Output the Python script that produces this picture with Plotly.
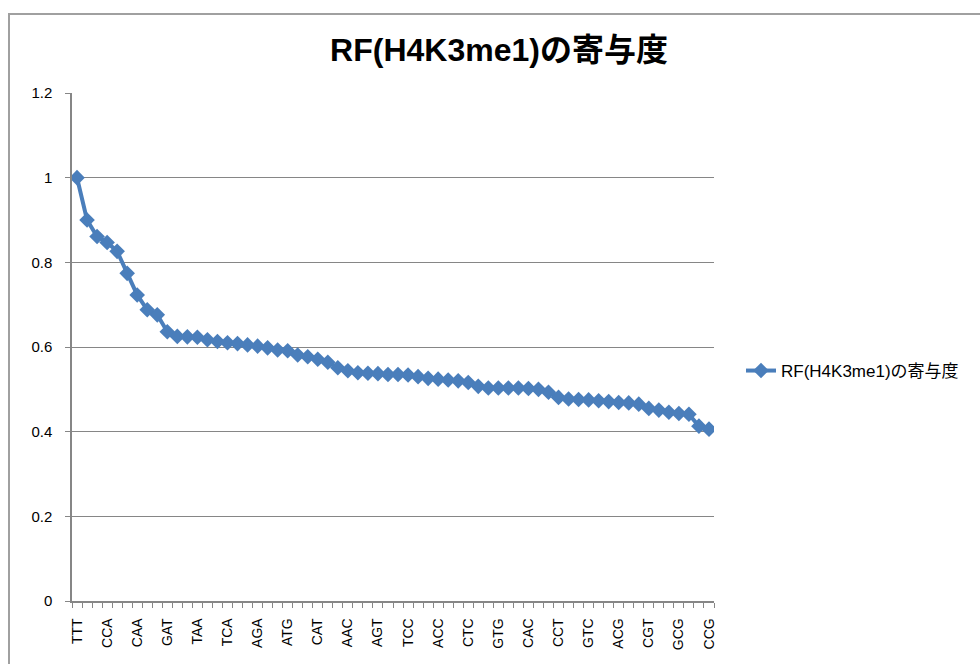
import plotly.graph_objects as go

# Importance scores of the 64 codons (sorted, descending)
importance = [
    1.000, 0.900, 0.861, 0.847, 0.826, 0.774, 0.723, 0.688, 0.676, 0.636,
    0.625, 0.624, 0.623, 0.617, 0.613, 0.610, 0.608, 0.605, 0.602, 0.598,
    0.593, 0.591, 0.581, 0.577, 0.571, 0.564, 0.551, 0.544, 0.539, 0.538,
    0.537, 0.535, 0.535, 0.534, 0.530, 0.526, 0.524, 0.522, 0.520, 0.516,
    0.507, 0.503, 0.503, 0.503, 0.503, 0.502, 0.500, 0.493, 0.481, 0.477,
    0.476, 0.475, 0.473, 0.471, 0.469, 0.468, 0.465, 0.455, 0.451, 0.446,
    0.443, 0.441, 0.413, 0.406,
]

# Codon labels shown on the category axis (every third position)
tick_labels = [
    "TTT", "CCA", "CAA", "GAT", "TAA", "TCA", "AGA", "ATG", "CAT", "AAC", "AGT",
    "TCC", "ACC", "CTC", "GTG", "CAC", "CCT", "GTC", "ACG", "CGT", "GCG", "CCG",
]
tick_step = 3

# Value-axis labels
y_ticks = [0, 0.2, 0.4, 0.6, 0.8, 1.0, 1.2]
y_tick_text = ["0", "0.2", "0.4", "0.6", "0.8", "1", "1.2"]

series_name = "RF(H4K3me1)の寄与度"
title_text = "RF(H4K3me1)の寄与度"

positions = list(range(len(importance)))
tick_positions = positions[::tick_step]

line_color = "rgb(74,126,187)"
grid_color = "rgb(134,134,134)"
axis_color = "rgb(134,134,134)"
text_font = "Liberation Sans, Arial, Noto Sans CJK JP, sans-serif"

fig = go.Figure()
fig.add_trace(go.Scatter(
    x=positions,
    y=importance,
    mode="lines+markers",
    name=series_name,
    line=dict(color=line_color, width=4),
    marker=dict(symbol="diamond", size=12, color=line_color),
))

W, H = 980, 664
left, right, top, bottom = 72, 714, 93, 601

fig.update_layout(
    width=W,
    height=H,
    margin=dict(l=left, r=W - right, t=top, b=H - bottom, pad=0),
    paper_bgcolor="white",
    plot_bgcolor="white",
    font=dict(family=text_font, size=15, color="black"),
    title=dict(
        text="<b>" + title_text + "</b>",
        x=499 / W,
        xanchor="center",
        y=1 - 50 / H,
        yanchor="middle",
        font=dict(family="Liberation Sans Narrow, Liberation Sans, Noto Sans CJK JP, sans-serif",
                  size=32, color="black"),
    ),
    showlegend=True,
    legend=dict(
        x=(741 - left) / (right - left),
        xanchor="left",
        y=(bottom - 371) / (bottom - top),
        yanchor="middle",
        font=dict(family=text_font, size=17, color="black"),
        bgcolor="rgba(0,0,0,0)",
        itemwidth=30,
    ),
)

fig.update_xaxes(
    range=[-0.5, len(importance) - 0.5],
    tickmode="array",
    tickvals=tick_positions,
    ticktext=tick_labels,
    tickangle=-90,
    ticks="",
    showgrid=False,
    showline=True,
    linecolor=axis_color,
    linewidth=1.5,
    zeroline=False,
    ticklabelstandoff=10,
    tickfont_size=14,
    tickfont_family=text_font,
    tickfont_color="black",
    minor=dict(
        tickmode="linear",
        tick0=-0.5,
        dtick=1,
        ticks="outside",
        ticklen=5,
        tickcolor=axis_color,
        tickwidth=1,
        showgrid=False,
    ),
)

fig.update_yaxes(
    range=[0, 1.2],
    tickmode="array",
    tickvals=y_ticks,
    ticktext=y_tick_text,
    ticks="outside",
    ticklen=5,
    tickcolor=axis_color,
    showgrid=True,
    gridcolor=grid_color,
    gridwidth=1,
    showline=True,
    linecolor=axis_color,
    linewidth=1.5,
    zeroline=False,
    ticklabelstandoff=10,
    tickfont_size=15,
    tickfont_family=text_font,
    tickfont_color="black",
)

# Chart frame (outer border of the chart object)
fig.add_shape(
    type="rect",
    xref="paper", yref="paper",
    x0=(9 - left) / (right - left), x1=(W + 20 - left) / (right - left),
    y0=(bottom - (H + 20)) / (bottom - top), y1=(bottom - 14) / (bottom - top),
    line=dict(color="rgb(160,160,160)", width=2),
    fillcolor="rgba(0,0,0,0)",
    layer="below",
)

fig.write_html("out.html")
